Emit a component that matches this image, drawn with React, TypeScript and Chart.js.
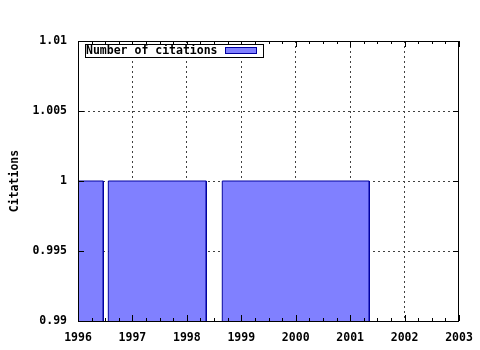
import React, { useEffect, useRef } from 'react';
import { Chart, registerables } from 'chart.js';

Chart.register(...registerables);

// ---- data ----
const seriesLabel = 'Number of citations';
const boxStarts = [1995.5, 1996.557, 1998.651];
const boxEnds = [1996.465, 1998.357, 2001.352];
const boxValues = [1, 1, 1];
const xMin = 1996;
const xMax = 2003;
const yTicks = [0.99, 0.995, 1, 1.005, 1.01];
const yTickLabels = ['0.99', '0.995', '1', '1.005', '1.01'];
const yTitle = 'Citations';

const FONT_FAMILY = '"DejaVu Sans Mono", monospace';
const FILL = '#8080ff';
const EDGE = '#0000a0';
const GRID = '#404040';

const frame = {
  id: 'gnuFrame',
  afterDatasetsDraw(chart: any) {
    const { ctx, chartArea: ca, scales } = chart;
    const xs = scales.x;
    const ys = scales.y;
    ctx.save();
    ctx.strokeStyle = '#000';
    ctx.lineWidth = 1;
    // inward ticks
    ctx.beginPath();
    const steps = Math.round((xMax - xMin) / 0.25);
    for (let i = 0; i <= steps; i++) {
      const v = xMin + i * 0.25;
      const px = Math.round(xs.getPixelForValue(v)) + 0.5;
      const len = i % 4 === 0 ? 6 : 3;
      ctx.moveTo(px, ca.bottom);
      ctx.lineTo(px, ca.bottom - len);
      ctx.moveTo(px, ca.top);
      ctx.lineTo(px, ca.top + len);
    }
    yTicks.forEach((v) => {
      const py = Math.round(ys.getPixelForValue(v)) + 0.5;
      ctx.moveTo(ca.left, py);
      ctx.lineTo(ca.left + 6, py);
      ctx.moveTo(ca.right, py);
      ctx.lineTo(ca.right - 6, py);
    });
    ctx.stroke();
    // border
    ctx.strokeRect(Math.round(ca.left) + 0.5, Math.round(ca.top) + 0.5,
      Math.round(ca.right - ca.left) - 1, Math.round(ca.bottom - ca.top));
    // legend
    const lx = Math.round(ca.left) + 7.5;
    const ly = Math.round(ca.top) + 3.5;
    ctx.fillStyle = '#fff';
    ctx.fillRect(lx, ly, 178, 13);
    ctx.strokeRect(lx, ly, 178, 13);
    ctx.fillStyle = '#000';
    ctx.font = 'bold 11.5px ' + FONT_FAMILY;
    ctx.textBaseline = 'middle';
    ctx.textAlign = 'left';
    ctx.fillText(chart.data.datasets[0].label, lx + 0.5, ly + 7);
    ctx.fillStyle = FILL;
    ctx.fillRect(lx + 140, ly + 3, 31, 6);
    ctx.strokeStyle = EDGE;
    ctx.strokeRect(lx + 140, ly + 3, 31, 6);
    ctx.restore();
  },
};

export default function App() {
  const ref = useRef<HTMLCanvasElement | null>(null);
  useEffect(() => {
    if (!ref.current) return;
    const datasets = boxStarts.map((s, i) => ({
      label: i === 0 ? seriesLabel : seriesLabel + ' ' + i,
      data: [
        { x: s, y: yTicks[0] },
        { x: s, y: boxValues[i] },
        { x: boxEnds[i], y: boxValues[i] },
        { x: boxEnds[i], y: yTicks[0] },
      ],
      borderColor: EDGE,
      backgroundColor: FILL,
      borderWidth: 1,
      fill: 'start',
      pointRadius: 0,
      tension: 0,
      showLine: true,
    }));
    const font = { family: FONT_FAMILY, size: 11.5, weight: 'bold' as const };
    const chart = new Chart(ref.current, {
      type: 'scatter',
      data: { datasets },
      plugins: [frame],
      options: {
        animation: false,
        responsive: false,
        devicePixelRatio: 1,
        layout: { padding: { top: 41, right: 21, left: 0, bottom: 0 } },
        plugins: { legend: { display: false }, tooltip: { enabled: false } },
        scales: {
          x: {
            type: 'linear',
            min: xMin,
            max: xMax,
            afterFit: (s: any) => { s.height = 29; s.paddingLeft = 0; s.paddingRight = 0; },
            ticks: {
              stepSize: 1,
              color: '#000',
              font,
              padding: 10,
              maxRotation: 0,
              callback: (v: any) => String(v),
            },
            grid: {
              drawTicks: false,
              color: (c: any) => (c.tick && (c.tick.value === xMin || c.tick.value === xMax) ? 'rgba(0,0,0,0)' : GRID),
            },
            border: { display: false, dash: [2, 3] },
          },
          y: {
            type: 'linear',
            min: yTicks[0],
            max: yTicks[yTicks.length - 1],
            afterFit: (s: any) => { s.width = 78; s.paddingTop = 0; s.paddingBottom = 0; },
            afterBuildTicks: (s: any) => { s.ticks = yTicks.map((v) => ({ value: v })); },
            ticks: {
              color: '#000',
              font,
              padding: 11,
              callback: (_v: any, i: number) => yTickLabels[i],
            },
            title: { display: true, text: yTitle, color: '#000', font, padding: { top: 8, bottom: 0 } },
            grid: {
              drawTicks: false,
              color: (c: any) => (c.index === 0 || c.index === yTicks.length - 1 ? 'rgba(0,0,0,0)' : GRID),
            },
            border: { display: false, dash: [2, 3] },
          },
        },
      },
    });
    return () => chart.destroy();
  }, []);
  return (
    <div style={{ position: 'absolute', left: 0, top: 0, width: 480, height: 350, background: '#fff' }}>
      <canvas ref={ref} width={480} height={350} />
    </div>
  );
}
